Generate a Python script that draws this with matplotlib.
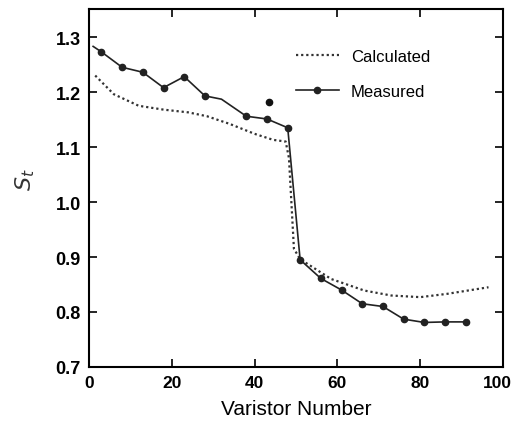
import matplotlib
matplotlib.use("Agg")
import matplotlib.pyplot as plt
from matplotlib.transforms import ScaledTranslation

plt.rcParams['font.family'] = ['Liberation Sans', 'DejaVu Sans']

meas_x = [1, 3, 8, 13, 18, 23, 28, 32, 38, 43, 48, 51, 56, 61, 66, 71, 76, 81, 86, 91]
meas_y = [1.283, 1.273, 1.245, 1.236, 1.208, 1.228, 1.193, 1.187, 1.156, 1.151, 1.135,
          0.895, 0.861, 0.840, 0.815, 0.810, 0.787, 0.781, 0.782, 0.782]
marker_idx = [1, 2, 3, 4, 5, 6, 8, 9, 10, 11, 12, 13, 14, 15, 16, 17, 18, 19]
outlier_x = [43.6]
outlier_y = [1.182]

calc_x = [1.5, 6, 12, 18, 24, 28.5, 34, 40, 44.5, 47.5, 48.3, 49.5, 51, 58.5, 66.5, 73, 80, 86.5, 91.5, 96.5]
calc_y = [1.230, 1.196, 1.175, 1.168, 1.163, 1.156, 1.142, 1.124, 1.113, 1.110, 1.080, 0.915,
          0.896, 0.860, 0.839, 0.830, 0.827, 0.833, 0.839, 0.845]

xticks = [0, 20, 40, 60, 80, 100]
yticks = [0.7, 0.8, 0.9, 1.0, 1.1, 1.2, 1.3]

fig = plt.figure(figsize=(5.15, 4.31), dpi=100)
ax = fig.add_axes([0.1728, 0.1462, 0.8039, 0.8306])

ax.plot(calc_x, calc_y, linestyle=(0, (1, 1.3)), color='#333333', lw=1.6, label='Calculated')
ax.plot(meas_x, meas_y, '-', color='#222222', lw=1.2, marker='o', ms=4.5,
        markevery=marker_idx, label='Measured')
ax.plot(outlier_x, outlier_y, 'o', color='#111111', ms=4.5)

ax.set_xlim(0, 100)
ax.set_ylim(0.7, 1.351)
ax.set_xticks(xticks)
ax.set_yticks(yticks)
ax.set_xticklabels([str(v) for v in xticks], fontweight='bold', fontsize=12.5)
ax.set_yticklabels([f"{v:.1f}" for v in yticks], fontweight='bold', fontsize=13)
ax.tick_params(direction='in', top=True, right=True, length=6, width=1.2, pad=6)
for s in ax.spines.values():
    s.set_linewidth(1.5)

last = ax.get_xticklabels()[-1]
last.set_transform(last.get_transform() + ScaledTranslation(-6 / 100, 0, fig.dpi_scale_trans))

ax.set_xlabel('Varistor Number', fontsize=15, labelpad=6)
ax.set_ylabel(r'$S_t$', fontsize=16, color='#333333')
ax.yaxis.set_label_coords(-0.125, 0.525)

ax.legend(loc='upper right', bbox_to_anchor=(0.86, 0.93), frameon=False, fontsize=12,
          handlelength=2.6, labelspacing=1.2, handletextpad=0.7)

fig.savefig('out.png', dpi=100)
